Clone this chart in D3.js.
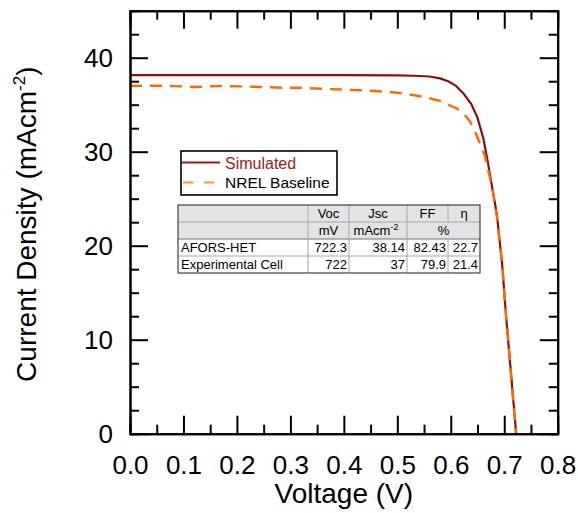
<!DOCTYPE html>
<html>
<head>
<meta charset="utf-8">
<script src="https://cdn.jsdelivr.net/npm/d3@7"></script>
<style>
  html, body { margin: 0; padding: 0; background: #fff; }
  svg { display: block; font-family: Arial, "Liberation Sans", Helvetica, sans-serif; }
</style>
</head>
<body>
<svg id="chart" width="578" height="513"></svg>
<script>
// ---- Data ----
const simVoltage = [0, 0.1, 0.2, 0.3, 0.4, 0.5, 0.53, 0.56, 0.58, 0.595, 0.61, 0.625, 0.639, 0.65, 0.661, 0.669, 0.675, 0.686, 0.696, 0.703, 0.711, 0.7223];
const simCurrent = [38.14, 38.14, 38.14, 38.14, 38.14, 38.12, 38.08, 38.0, 37.8, 37.5, 37.0, 36.1, 35.0, 33.6, 31.4, 29.0, 27.0, 23.4, 18.1, 12.8, 7.5, 0];
const nrelVoltage = [0, 0.05, 0.1, 0.12, 0.168, 0.206, 0.25, 0.286, 0.318, 0.368, 0.436, 0.48, 0.511, 0.548, 0.58, 0.611, 0.625, 0.636, 0.648, 0.664, 0.677, 0.686, 0.696, 0.703, 0.711, 0.722];
const nrelCurrent = [37.0, 37.02, 36.95, 36.88, 36.99, 36.95, 36.88, 36.8, 36.8, 36.67, 36.53, 36.38, 36.2, 35.85, 35.4, 34.6, 34.0, 33.2, 31.8, 29.5, 26.3, 23.2, 18.1, 12.8, 7.5, 0];
const seriesNames = ["Simulated", "NREL Baseline"];

const xTickValues = [0, 0.1, 0.2, 0.3, 0.4, 0.5, 0.6, 0.7, 0.8];
const xMinorValues = [0.05, 0.15, 0.25, 0.35, 0.45, 0.55, 0.65, 0.75];
const yTickValues = [0, 10, 20, 30, 40];
const yMinorValues = [2.5, 5, 7.5, 12.5, 15, 17.5, 22.5, 25, 27.5, 32.5, 35, 37.5, 42.5];

const tableHeader1 = ["", "Voc", "Jsc", "FF", "η"];
const tableHeader2 = ["", "mV", "mAcm", "%"];
const tableRowNames = ["AFORS-HET", "Experimental Cell"];
const tableVoc = ["722.3", "722"];
const tableJsc = ["38.14", "37"];
const tableFF = ["82.43", "79.9"];
const tableEta = ["22.7", "21.4"];

// ---- Layout ----
const svg = d3.select("#chart");
const L = 130, R = 557.7, T = 10.7, B = 433.7;
const x = d3.scaleLinear().domain([0, 0.8]).range([L, R]);
const y = d3.scaleLinear().domain([0, 45]).range([B, T]);

svg.append("defs").append("clipPath").attr("id", "clip")
  .append("rect").attr("x", L).attr("y", T).attr("width", R - L).attr("height", B - T);

// curves
const line = d3.line().x(d => x(d[0])).y(d => y(d[1]));
const simData = simVoltage.map((v, i) => [v, simCurrent[i]]);
const nrelData = nrelVoltage.map((v, i) => [v, nrelCurrent[i]]);

const g = svg.append("g").attr("clip-path", "url(#clip)");
g.append("path").datum(simData).attr("d", line)
  .attr("fill", "none").attr("stroke", "#8b0f0f").attr("stroke-width", 2.2).attr("stroke-linejoin", "round");
g.append("path").datum(nrelData).attr("d", line)
  .attr("fill", "none").attr("stroke", "#ff6a00").attr("stroke-width", 2.4)
  .attr("stroke-dasharray", "12,8");

// axes with inward ticks
function styleAxis(sel) {
  sel.selectAll(".domain").attr("stroke", "#000").attr("stroke-width", 2);
  sel.selectAll(".tick line").attr("stroke", "#000").attr("stroke-width", 2);
}
function addAxis(axisFn, scale, transform, major, minor, labels) {
  const gm = svg.append("g").attr("transform", transform)
    .call(axisFn(scale).tickValues(minor).tickSize(-9).tickFormat(""));
  styleAxis(gm);
  const gM = svg.append("g").attr("transform", transform)
    .call(axisFn(scale).tickValues(major).tickSize(-18).tickSizeOuter(0).tickFormat(labels ? labels : ""));
  styleAxis(gM);
  return gM;
}
const xb = addAxis(d3.axisBottom, x, `translate(0,${B})`, xTickValues, xMinorValues, d => d.toFixed(1));
xb.selectAll(".tick text").attr("font-size", 26).attr("fill", "#000").attr("y", 0).attr("dy", 0)
  .attr("transform", "translate(0,40.3)").attr("font-family", "Arial, 'Liberation Sans', sans-serif");
addAxis(d3.axisTop, x, `translate(0,${T})`, xTickValues, xMinorValues, null);
const yl = addAxis(d3.axisLeft, y, `translate(${L},0)`, yTickValues, yMinorValues, d => d);
yl.selectAll(".tick text").attr("font-size", 26).attr("fill", "#000").attr("x", -17).attr("dy", "0.35em")
  .attr("font-family", "Arial, 'Liberation Sans', sans-serif");
addAxis(d3.axisRight, y, `translate(${R},0)`, yTickValues, yMinorValues, null);

// axis titles
svg.append("text").attr("x", (L + R) / 2).attr("y", 503).attr("text-anchor", "middle")
  .attr("font-size", 28).attr("fill", "#000").text("Voltage (V)");
const yt = svg.append("text").attr("transform", `translate(36,${(T + B) / 2 + 2}) rotate(-90)`)
  .attr("text-anchor", "middle").attr("font-size", 28).attr("fill", "#000");
yt.append("tspan").text("Current Density (mAcm");
yt.append("tspan").attr("font-size", 17).attr("dy", -11).text("-2");
yt.append("tspan").attr("dy", 11).text(")");

// legend
const lg = svg.append("g");
lg.append("rect").attr("x", 181).attr("y", 151).attr("width", 156).attr("height", 44)
  .attr("fill", "#fff").attr("stroke", "#000").attr("stroke-width", 1.6);
lg.append("line").attr("x1", 182).attr("x2", 220).attr("y1", 162.5).attr("y2", 162.5)
  .attr("stroke", "#9b1b1b").attr("stroke-width", 2.2);
lg.append("line").attr("x1", 183).attr("x2", 220).attr("y1", 182.5).attr("y2", 182.5)
  .attr("stroke", "#ff9320").attr("stroke-width", 2.2).attr("stroke-dasharray", "10,11");
lg.append("text").attr("x", 225).attr("y", 168.5).attr("font-size", 16).attr("fill", "#9b1b1b").text(seriesNames[0]);
lg.append("text").attr("x", 225).attr("y", 188.3).attr("font-size", 15.5).attr("fill", "#000").text(seriesNames[1]);

// table
const tb = svg.append("g").attr("font-size", 13).attr("fill", "#000");
const colX = [178, 308, 349, 407, 448, 480];
const rowY = [205, 222, 239, 256, 273];
tb.append("rect").attr("x", colX[0]).attr("y", rowY[0]).attr("width", colX[5] - colX[0]).attr("height", rowY[2] - rowY[0]).attr("fill", "#e3e3e3");
tb.append("rect").attr("x", colX[0]).attr("y", rowY[2]).attr("width", colX[5] - colX[0]).attr("height", rowY[4] - rowY[2]).attr("fill", "#fff");
[rowY[1], rowY[2], rowY[3]].forEach(yy => {
  tb.append("line").attr("x1", colX[0]).attr("x2", colX[5]).attr("y1", yy).attr("y2", yy)
    .attr("stroke", yy === rowY[2] ? "#707070" : "#a8a8a8").attr("stroke-width", 1);
});
[colX[1], colX[2], colX[3]].forEach(xx => {
  tb.append("line").attr("x1", xx).attr("x2", xx).attr("y1", rowY[0]).attr("y2", rowY[4])
    .attr("stroke", "#a8a8a8").attr("stroke-width", 1);
});
tb.append("line").attr("x1", colX[4]).attr("x2", colX[4]).attr("y1", rowY[0]).attr("y2", rowY[1]).attr("stroke", "#a8a8a8");
tb.append("line").attr("x1", colX[4]).attr("x2", colX[4]).attr("y1", rowY[2]).attr("y2", rowY[4]).attr("stroke", "#a8a8a8");
tb.append("rect").attr("x", colX[0]).attr("y", rowY[0]).attr("width", colX[5] - colX[0]).attr("height", rowY[4] - rowY[0])
  .attr("fill", "none").attr("stroke", "#404040").attr("stroke-width", 1.2);

const mid = (a, b) => (a + b) / 2;
const base = r => rowY[r] + 13;
for (let c = 1; c < tableHeader1.length; c++) {
  tb.append("text").attr("x", mid(colX[c], colX[c + 1])).attr("y", base(0)).attr("text-anchor", "middle").text(tableHeader1[c]);
}
tb.append("text").attr("x", mid(colX[1], colX[2])).attr("y", base(1)).attr("text-anchor", "middle").text(tableHeader2[1]);
const jt = tb.append("text").attr("x", mid(colX[2], colX[3]) - 2).attr("y", base(1)).attr("text-anchor", "middle");
jt.append("tspan").text(tableHeader2[2]);
jt.append("tspan").attr("font-size", 9).attr("dy", -5).text("-2");
tb.append("text").attr("x", mid(colX[3], colX[5])).attr("y", base(1)).attr("text-anchor", "middle").text(tableHeader2[3]);
tableRowNames.forEach((name, i) => {
  const r = i + 2;
  tb.append("text").attr("x", colX[0] + 3).attr("y", base(r)).text(name);
  [tableVoc[i], tableJsc[i], tableFF[i], tableEta[i]].forEach((v, j) => {
    tb.append("text").attr("x", colX[j + 2] - 2).attr("y", base(r)).attr("text-anchor", "end").text(v);
  });
});
</script>
</body>
</html>
